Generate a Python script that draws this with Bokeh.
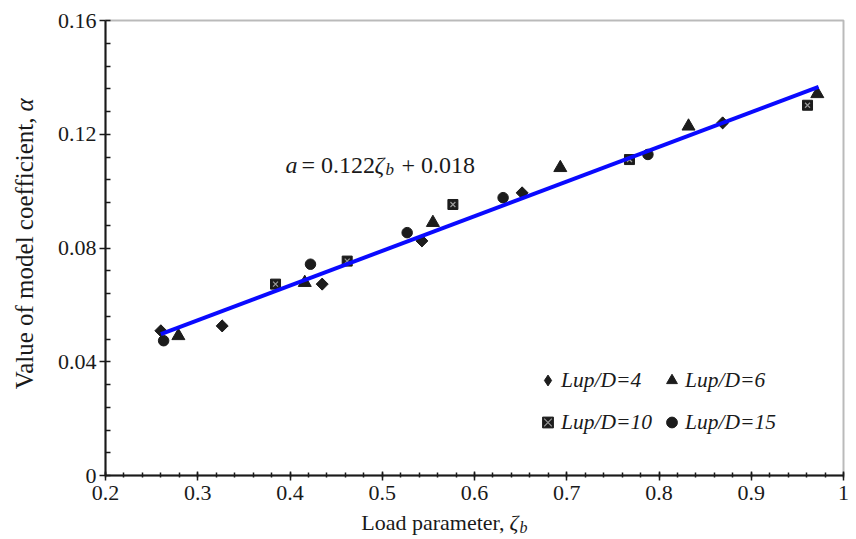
import math
from bokeh.plotting import figure
from bokeh.models import (Range1d, FixedTicker, CustomJSTickFormatter, Label,
                          Legend, LegendItem, BoxAnnotation)
from bokeh.embed import file_html
from bokeh.resources import INLINE

# ---------------- data ----------------
x_lup4 = [0.260, 0.3265, 0.4349, 0.543, 0.6516, 0.869]
y_lup4 = [0.0509, 0.0526, 0.0673, 0.0825, 0.0994, 0.1240]

x_lup6 = [0.279, 0.416, 0.5549, 0.693, 0.832, 0.9716]
y_lup6 = [0.0491, 0.0678, 0.0889, 0.1082, 0.1228, 0.1342]

x_lup10 = [0.3843, 0.462, 0.5766, 0.768, 0.961]
y_lup10 = [0.0673, 0.0754, 0.0953, 0.1111, 0.1302]

x_lup15 = [0.263, 0.4222, 0.527, 0.631, 0.788]
y_lup15 = [0.0474, 0.0743, 0.0854, 0.0977, 0.1129]

fit_x = [0.260, 0.973]
fit_y = [0.0497, 0.1367]

x_ticks = [0.2, 0.3, 0.4, 0.5, 0.6, 0.7, 0.8, 0.9, 1.0]
y_ticks = [0.0, 0.04, 0.08, 0.12, 0.16]
legend_labels = ["Lup/D=4", "Lup/D=6", "Lup/D=10", "Lup/D=15"]

# ---------------- layout: frame covers the whole canvas ----------------
W, H = 856, 539
PX_L, PX_R, PX_T, PX_B = 105, 843, 20, 475   # plot box edges in pixels
X0, X1, Y0, Y1 = 0.2, 1.0, 0.0, 0.16
sx = (PX_R - PX_L) / (X1 - X0)
sy = (PX_B - PX_T) / (Y1 - Y0)
xr = Range1d(X0 - PX_L / sx, X0 + (W - PX_L) / sx)
yr = Range1d(Y0 - (H - PX_B) / sy, Y0 + PX_B / sy)

FONT = "Liberation Serif"
INK = "#1c1c1c"
TXT = "#1a1a1a"

p = figure(width=W, height=H, output_backend="svg", toolbar_location=None,
           x_range=xr, y_range=yr,
           min_border_left=0, min_border_right=0,
           min_border_top=0, min_border_bottom=0)
p.xgrid.visible = False
p.ygrid.visible = False
p.background_fill_color = "white"
p.border_fill_color = "white"
p.outline_line_color = None

x_minor = [round(0.2 + 0.02 * i, 3) for i in range(41)]
y_minor = [round(0.008 * i, 3) for i in range(21)]
p.xaxis.ticker = FixedTicker(ticks=x_ticks, minor_ticks=x_minor)
p.yaxis.ticker = FixedTicker(ticks=y_ticks, minor_ticks=y_minor)
fmt = "return (+tick.toFixed(4)).toString();"
p.xaxis.formatter = CustomJSTickFormatter(code=fmt)
p.yaxis.formatter = CustomJSTickFormatter(code=fmt)
p.xaxis.fixed_location = Y0
p.yaxis.fixed_location = X0
p.xaxis.bounds = (X0, X1)
p.yaxis.bounds = (Y0, Y1)

for ax in (p.xaxis[0], p.yaxis[0]):
    ax.axis_line_width = 2
    ax.axis_line_color = TXT
    ax.major_tick_line_color = TXT
    ax.major_tick_line_width = 1.5
    ax.minor_tick_line_color = TXT
    ax.minor_tick_line_width = 1.5
    ax.major_label_text_font = FONT
    ax.major_label_text_font_size = "22px"
    ax.major_label_text_color = TXT

p.xaxis.major_label_standoff = 5
p.yaxis.major_label_standoff = 3
p.xaxis.major_tick_in = 4
p.xaxis.major_tick_out = 5
p.xaxis.minor_tick_in = 3
p.xaxis.minor_tick_out = 2
p.yaxis.major_tick_in = 0
p.yaxis.major_tick_out = 6
p.yaxis.minor_tick_in = 5
p.yaxis.minor_tick_out = 0

# plot box (top and right borders)
p.add_layout(BoxAnnotation(left=X0, right=X1, bottom=Y0, top=Y1,
                           fill_alpha=0, line_color=TXT, line_width=2,
                           level="underlay"))

# ---------------- marks ----------------
# legend key for the diamond series (hidden under the rotated squares)
r4_key = p.scatter(x_lup4, y_lup4, marker="diamond", size=11,
                   fill_color=INK, line_color=INK)
r4 = p.scatter(x_lup4, y_lup4, marker="square", angle=math.pi / 4, size=8.5,
               fill_color=INK, line_color=INK)
r6 = p.scatter(x_lup6, y_lup6, marker="triangle", size=13,
               fill_color=INK, line_color=INK)
r10 = p.scatter(x_lup10, y_lup10, marker="square", size=10,
                fill_color=INK, line_color=INK)
r10x = p.scatter(x_lup10, y_lup10, marker="x", size=7,
                 line_color="#9a9a9a", line_width=1.2)
r15 = p.scatter(x_lup15, y_lup15, marker="circle", size=10.5,
                fill_color=INK, line_color=INK)

p.line(fit_x, fit_y, line_color="#0a0aff", line_width=4)

# ---------------- legend ----------------
legend = Legend(items=[
    LegendItem(label=legend_labels[0], renderers=[r4_key]),
    LegendItem(label=legend_labels[1], renderers=[r6]),
    LegendItem(label=legend_labels[2], renderers=[r10, r10x]),
    LegendItem(label=legend_labels[3], renderers=[r15]),
], location=(534, H - 440), orientation="horizontal", ncols=2)
legend.glyph_width = 27
legend.glyph_height = 36
legend.label_standoff = -4
legend.spacing = 6
legend.padding = 0
legend.margin = 0
legend.border_line_color = None
legend.background_fill_alpha = 0
legend.label_text_font = FONT
legend.label_text_font_style = "italic"
legend.label_text_font_size = "21.5px"
legend.label_text_color = TXT
p.add_layout(legend)

# ---------------- equation text ----------------
EQ_X, EQ_Y = 0.3951, 0.1092
eq_parts = [
    ("a", "italic", "24px", 0, 0),
    ("= 0.122", "normal", "24px", 16, 0),
    ("ζ", "italic", "24px", 89, 0),
    ("b", "italic", "17px", 100, -5),
    ("+ 0.018", "normal", "24px", 116, 0),
]
for txt, style, size, dx, dy in eq_parts:
    p.add_layout(Label(x=EQ_X, y=EQ_Y, x_offset=dx, y_offset=dy, text=txt,
                       text_font=FONT, text_font_style=style,
                       text_font_size=size, text_color=TXT,
                       text_baseline="alphabetic", text_align="left"))

# ---------------- axis titles (labels, for mixed italics) ----------------
XT_X, XT_Y = 509, H - 522
p.add_layout(Label(x=XT_X, y=XT_Y, x_units="screen", y_units="screen",
                   text="Load parameter,", text_font=FONT, text_font_size="22px",
                   text_color=TXT, text_align="right", text_baseline="alphabetic",
                   x_offset=-5))
p.add_layout(Label(x=XT_X, y=XT_Y, x_units="screen", y_units="screen",
                   text="ζ", text_font=FONT, text_font_style="italic",
                   text_font_size="22px", text_color=TXT,
                   text_align="left", text_baseline="alphabetic"))
p.add_layout(Label(x=XT_X, y=XT_Y, x_units="screen", y_units="screen",
                   x_offset=10, y_offset=-5,
                   text="b", text_font=FONT, text_font_style="italic",
                   text_font_size="16px", text_color=TXT,
                   text_align="left", text_baseline="alphabetic"))

YT_X, YT_Y = 24, H - 111
p.add_layout(Label(x=YT_X, y=YT_Y, x_units="screen", y_units="screen",
                   angle=math.pi / 2, y_offset=-6,
                   text="Value of model coefficient,", text_font=FONT,
                   text_font_size="25px", text_color=TXT,
                   text_align="right", text_baseline="alphabetic"))
p.add_layout(Label(x=YT_X, y=YT_Y, x_units="screen", y_units="screen",
                   angle=math.pi / 2,
                   text="α", text_font=FONT, text_font_style="italic",
                   text_font_size="25px", text_color=TXT,
                   text_align="left", text_baseline="alphabetic"))

open("out.html", "w").write(file_html(p, INLINE))
